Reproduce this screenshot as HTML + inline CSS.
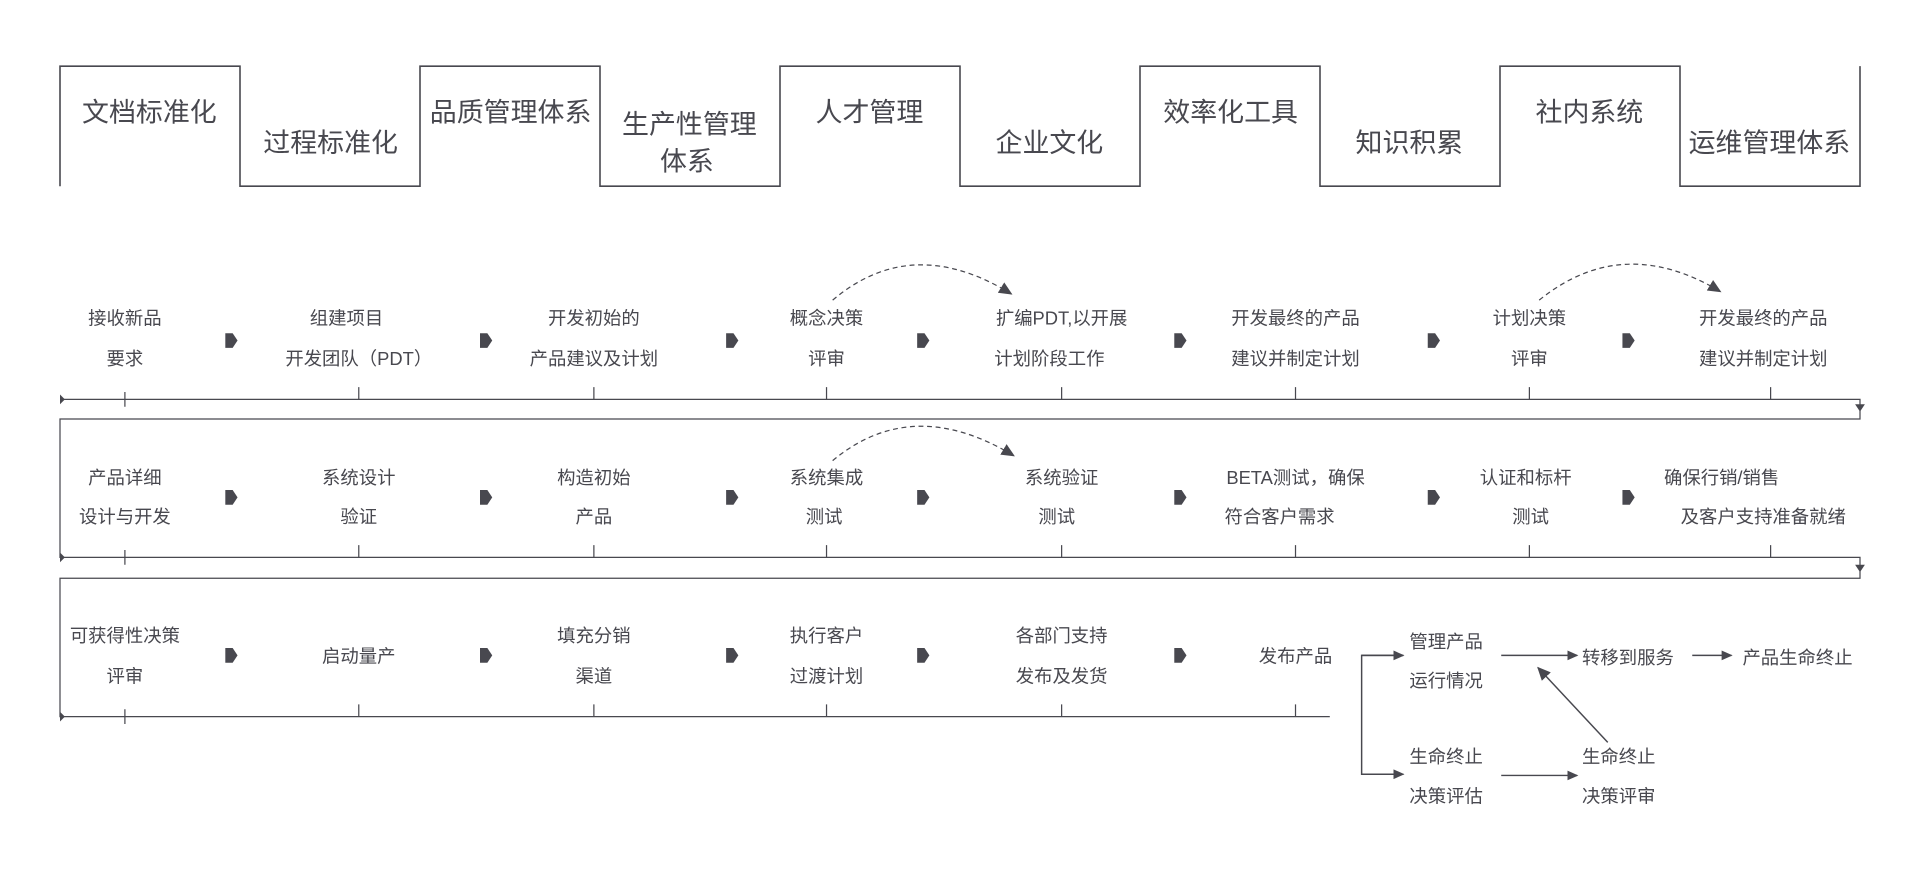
<!DOCTYPE html>
<html><head><meta charset="utf-8"><style>
html,body{margin:0;padding:0;background:#fff;}
svg{display:block;}
text{font-family:"Liberation Sans","Noto Sans CJK SC",sans-serif;fill:#48484f;}
.big{font-size:22px;}
.sm{font-size:15px;}
</style></head><body>
<svg width="1920" height="871" viewBox="0 0 1568 711" preserveAspectRatio="none" xmlns="http://www.w3.org/2000/svg">
<defs>
<marker id="ah" markerWidth="10" markerHeight="10" refX="8" refY="5" orient="auto" markerUnits="userSpaceOnUse">
<path d="M0,1 L9,5 L0,9 Z" fill="#48484f"/></marker>
<marker id="ah2" markerWidth="12" markerHeight="12" refX="10" refY="6" orient="auto" markerUnits="userSpaceOnUse">
<path d="M0,1 L11,6 L0,11 Z" fill="#48484f"/></marker>
<g id="pa"><path d="M-5,-6 L1,-6 L5,0 L1,6 L-5,6 Z" fill="#48484f"/></g>
</defs>
<g stroke="#48484f" stroke-width="1.3" fill="none">
<path d="M49,152 V54 H196 V152 H343 V54 H490 V152 H637 V54 H784 V152 H931 V54 H1078 V152 H1225 V54 H1372 V152 H1519 V54"/>
</g>
<g class="big" text-anchor="middle">
<text x="122" y="99">文档标准化</text>
<text x="270" y="124">过程标准化</text>
<text x="417" y="99">品质管理体系</text>
<text x="563" y="109">生产性管理</text>
<text x="561" y="139">体系</text>
<text x="710" y="99">人才管理</text>
<text x="857" y="124">企业文化</text>
<text x="1005" y="99">效率化工具</text>
<text x="1151" y="124">知识积累</text>
<text x="1298" y="99">社内系统</text>
<text x="1445" y="124">运维管理体系</text>
</g>
<!-- timelines -->
<g stroke="#48484f" stroke-width="1" fill="none">
<path d="M49,326 H1519 V342 H49 V455 H1519 V472 H49 V585 H1086"/>
<path d="M102,320 V332 M293,316 V326 M485,316 V326 M675,316 V326 M867,316 V326 M1058,316 V326 M1249,316 V326 M1446,316 V326"/>
<path d="M102,449 V461 M293,445 V455 M485,445 V455 M675,445 V455 M867,445 V455 M1058,445 V455 M1249,445 V455 M1446,445 V455"/>
<path d="M102,579 V591 M293,575 V585 M485,575 V585 M675,575 V585 M867,575 V585 M1058,575 V585"/>
</g>
<g fill="#48484f">
<path d="M49,322 L53,326 L49,330Z"/><path d="M49,451 L53,455 L49,459Z"/><path d="M49,581 L53,585 L49,589Z"/>
<path d="M1515,330 L1523,330 L1519,336Z"/><path d="M1515,461 L1523,461 L1519,467Z"/>
</g>
<!-- dashed arcs -->
<g stroke="#48484f" stroke-width="1" fill="none" stroke-dasharray="4,3">
<path d="M680,245 Q745,190 826,240" marker-end="url(#ah2)"/>
<path d="M1257,245 Q1325,190 1405,238" marker-end="url(#ah2)"/>
<path d="M680,376 Q745,322 828,372" marker-end="url(#ah2)"/>
</g>
<!-- process arrows -->
<g>
<use href="#pa" x="189" y="278"/><use href="#pa" x="397" y="278"/><use href="#pa" x="598" y="278"/><use href="#pa" x="754" y="278"/><use href="#pa" x="964" y="278"/><use href="#pa" x="1171" y="278"/><use href="#pa" x="1330" y="278"/>
<use href="#pa" x="189" y="406"/><use href="#pa" x="397" y="406"/><use href="#pa" x="598" y="406"/><use href="#pa" x="754" y="406"/><use href="#pa" x="964" y="406"/><use href="#pa" x="1171" y="406"/><use href="#pa" x="1330" y="406"/>
<use href="#pa" x="189" y="535"/><use href="#pa" x="397" y="535"/><use href="#pa" x="598" y="535"/><use href="#pa" x="754" y="535"/><use href="#pa" x="964" y="535"/>
</g>
<g class="sm" text-anchor="middle">
<text x="102" y="265">接收新品</text><text x="102" y="298">要求</text>
<text x="283" y="265">组建项目</text><text x="293" y="298">开发团队（PDT）</text>
<text x="485" y="265">开发初始的</text><text x="485" y="298">产品建议及计划</text>
<text x="675" y="265">概念决策</text><text x="675" y="298">评审</text>
<text x="867" y="265">扩编PDT,以开展</text><text x="857" y="298">计划阶段工作</text>
<text x="1058" y="265">开发最终的产品</text><text x="1058" y="298">建议并制定计划</text>
<text x="1249" y="265">计划决策</text><text x="1249" y="298">评审</text>
<text x="1440" y="265">开发最终的产品</text><text x="1440" y="298">建议并制定计划</text>

<text x="102" y="395">产品详细</text><text x="102" y="427">设计与开发</text>
<text x="293" y="395">系统设计</text><text x="293" y="427">验证</text>
<text x="485" y="395">构造初始</text><text x="485" y="427">产品</text>
<text x="675" y="395">系统集成</text><text x="673" y="427">测试</text>
<text x="867" y="395">系统验证</text><text x="863" y="427">测试</text>
<text x="1058" y="395">BETA测试，确保</text><text x="1045" y="427">符合客户需求</text>
<text x="1246" y="395">认证和标杆</text><text x="1250" y="427">测试</text>
<text x="1406" y="395">确保行销/销售</text><text x="1440" y="427">及客户支持准备就绪</text>

<text x="102" y="524">可获得性决策</text><text x="102" y="557">评审</text>
<text x="293" y="541">启动量产</text>
<text x="485" y="524">填充分销</text><text x="485" y="557">渠道</text>
<text x="675" y="524">执行客户</text><text x="675" y="557">过渡计划</text>
<text x="867" y="524">各部门支持</text><text x="867" y="557">发布及发货</text>
<text x="1058" y="541">发布产品</text>
</g>
<g class="sm">
<text x="1151" y="529">管理产品</text><text x="1151" y="561">运行情况</text>
<text x="1151" y="623">生命终止</text><text x="1151" y="655">决策评估</text>
<text x="1292" y="542">转移到服务</text>
<text x="1423" y="542">产品生命终止</text>
<text x="1292" y="623">生命终止</text><text x="1292" y="655">决策评审</text>
</g>
<g stroke="#48484f" stroke-width="1.2" fill="none">
<path d="M1146,535 H1112 V632 H1146" />
<path d="M1112,535 H1146" marker-end="url(#ah)"/>
<path d="M1112,632 H1146" marker-end="url(#ah)"/>
<path d="M1226,535 H1288" marker-end="url(#ah)"/>
<path d="M1382,535 H1414" marker-end="url(#ah)"/>
<path d="M1226,633 H1288" marker-end="url(#ah)"/>
<path d="M1313,606 L1256,545" marker-end="url(#ah2)"/>
</g>
</svg>
</body></html>
